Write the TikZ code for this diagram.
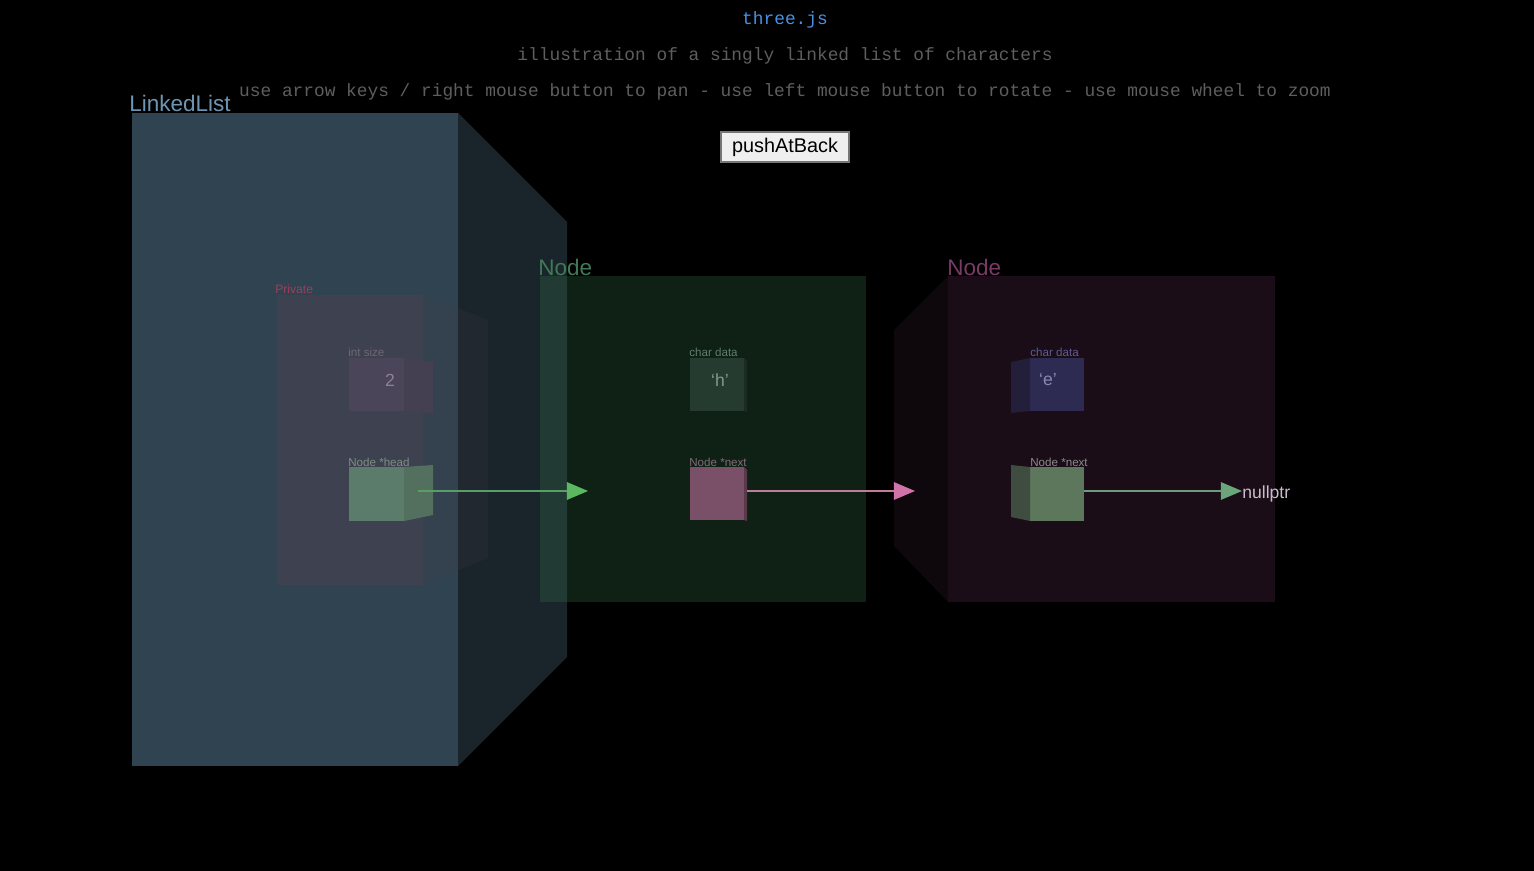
\documentclass[tikz,border=0pt]{standalone}
\usepackage{fontspec}
\setmainfont{Liberation Sans}
\newfontfamily\monofont{Liberation Mono}
\usetikzlibrary{arrows.meta,calc}

\definecolor{titleblue}{HTML}{4A8FE2}
\definecolor{infogray}{HTML}{5E5E5E}
\definecolor{buttonfill}{HTML}{EFEFEF}
\definecolor{buttonedge}{HTML}{767676}
\definecolor{llfront}{HTML}{2F4350}
\definecolor{llside}{HTML}{1A252B}
\definecolor{lltext}{HTML}{6E96B4}
\definecolor{privfill}{HTML}{5A4050}
\definecolor{privtext}{HTML}{9C3F5E}
\definecolor{sizefront}{HTML}{4A4559}
\definecolor{sizeside}{HTML}{444052}
\definecolor{sizetext}{HTML}{8C8399}
\definecolor{sizelbl}{HTML}{6E6878}
\definecolor{headfront}{HTML}{5B7B6B}
\definecolor{headside}{HTML}{53705F}
\definecolor{headlbl}{HTML}{7E8E84}
\definecolor{greenfill}{HTML}{326B46}
\definecolor{greentext}{HTML}{3F7A56}
\definecolor{hfront}{HTML}{263B2F}
\definecolor{hside}{HTML}{1C2C22}
\definecolor{htext}{HTML}{7C9C88}
\definecolor{hlbl}{HTML}{5F7F6C}
\definecolor{pinkfront}{HTML}{7A5068}
\definecolor{pinkside}{HTML}{583A4B}
\definecolor{pinklbl}{HTML}{806C7A}
\definecolor{pinkline}{HTML}{C07A9A}
\definecolor{pinkhead}{HTML}{D272AA}
\definecolor{purplefront}{HTML}{1A0D17}
\definecolor{purpleside}{HTML}{0E080D}
\definecolor{purpletext}{HTML}{7A3A66}
\definecolor{efront}{HTML}{2D2B52}
\definecolor{eside}{HTML}{231F3B}
\definecolor{etext}{HTML}{8A88B2}
\definecolor{elbl}{HTML}{5E5C96}
\definecolor{nextfront}{HTML}{5C775B}
\definecolor{nextside}{HTML}{3F4D41}
\definecolor{nextlbl}{HTML}{8C8C8C}
\definecolor{greenline}{HTML}{56A066}
\definecolor{greenhead}{HTML}{5CB860}
\definecolor{nullline}{HTML}{6C9C7C}
\definecolor{nullhead}{HTML}{6CA47C}
\definecolor{nulltext}{HTML}{CBBBCB}

\tikzset{
  face/.style={draw=none, inner sep=0pt, outer sep=0pt, anchor=north west},
  pxsize/.style 2 args={minimum width={#1*0.02cm}, minimum height={#2*0.02cm}},
  info/.style={font=\monofont\fontsize{10.15}{12}\selectfont, text=infogray, anchor=base, inner sep=0pt},
  boxtitle/.style={font=\fontsize{12.8}{14}\selectfont, anchor=base west, inner sep=0pt},
  fieldlabel/.style={font=\fontsize{6.6}{8}\selectfont, anchor=base west, inner sep=0pt},
  value/.style={font=\fontsize{10}{12}\selectfont, inner sep=0pt},
  ptr/.style 2 args={line width=0.6pt, draw=#1, -{Triangle[length=12pt, width=10pt, color=#2]}}
}

\begin{document}
\begin{tikzpicture}[x=0.02cm, y=-0.02cm]
\fill[black] (0,0) rectangle (1534,871);
\useasboundingbox (0,0) rectangle (1534,871);

\node[info, text=titleblue] (title) at (785,25) {three.js};
\node[info] (subtitle) at (785,61) {illustration of a singly linked list of characters};
\node[info] (help) at (785,97) {use arrow keys / right mouse button to pan - use left mouse button to rotate - use mouse wheel to zoom};
\node[draw=buttonedge, fill=buttonfill, line width=0.6pt, inner sep=0pt, pxsize={128}{30},
  font=\fontsize{11.3}{13}\selectfont] (push) at (785,147) {pushAtBack};

\node[face, pxsize={326}{653}, fill=llfront] (llf) at (132,113) {};
\fill[llside] (llf.north east) -- (567,222) -- (567,657) -- (llf.south east) -- cycle;
\node[boxtitle, text=lltext] (lltitle) at (129,112) {LinkedList};

\node[face, pxsize={146}{290}, fill=privfill, fill opacity=0.35] (privf) at (277,295) {};
\fill[privfill, fill opacity=0.12] (privf.north east) -- (488,320) -- (488,558) -- (privf.south east) -- cycle;
\node[fieldlabel, text=privtext, font=\fontsize{6.9}{8}\selectfont] (privlbl) at (275,294) {Private};

\node[face, pxsize={55}{53}, fill=sizefront] (sizef) at (349,358) {};
\fill[sizeside] (sizef.north east) -- (433,362) -- (433,413) -- (sizef.south east) -- cycle;
\node[value, text=sizetext] (sizeval) at (390,380) {2};
\node[fieldlabel, text=sizelbl] (sizelabel) at (348,357) {int size};

\node[face, pxsize={55}{54}, fill=headfront] (headf) at (349,467) {};
\fill[headside] (headf.north east) -- (433,465) -- (433,515) -- (headf.south east) -- cycle;
\node[fieldlabel, text=headlbl] (headlabel) at (348,466) {Node *head};

\node[face, pxsize={326}{326}, fill=greenfill, fill opacity=0.3] (n1f) at (540,276) {};
\node[boxtitle, text=greentext] (n1title) at (538,276) {Node};

\node[face, pxsize={54}{53}, fill=hfront] (n1dataf) at (690,358) {};
\fill[hside] (n1dataf.north east) -- (747,361) -- (747,412) -- (n1dataf.south east) -- cycle;
\node[value, text=htext] (n1val) at (720,380) {`h'};
\node[fieldlabel, text=hlbl] (n1datalabel) at (689,357) {char data};

\node[face, pxsize={54}{53}, fill=pinkfront] (n1nextf) at (690,467) {};
\fill[pinkside] (n1nextf.north east) -- (747,470) -- (747,521) -- (n1nextf.south east) -- cycle;
\node[fieldlabel, text=pinklbl] (n1nextlabel) at (689,466) {Node *next};

\node[face, pxsize={327}{326}, fill=purplefront] (n2f) at (948,276) {};
\fill[purpleside] (n2f.north west) -- (894,330) -- (894,546) -- (n2f.south west) -- cycle;
\node[boxtitle, text=purpletext] (n2title) at (947,276) {Node};

\node[face, pxsize={54}{53}, fill=efront] (n2dataf) at (1030,358) {};
\fill[eside] (n2dataf.north west) -- (1011,362) -- (1011,413) -- (n2dataf.south west) -- cycle;
\node[value, text=etext] (n2val) at (1048,380) {`e'};
\node[fieldlabel, text=elbl] (n2datalabel) at (1030,357) {char data};

\node[face, pxsize={54}{54}, fill=nextfront] (n2nextf) at (1030,467) {};
\fill[nextside] (n2nextf.north west) -- (1011,465) -- (1011,517) -- (n2nextf.south west) -- cycle;
\node[fieldlabel, text=nextlbl] (n2nextlabel) at (1030,466) {Node *next};

\node[value, text=nulltext, anchor=west] (nullnode) at (1242,494) {nullptr};

\coordinate (n1in) at (588,491);
\coordinate (n2in) at (915,491);
\draw[ptr={greenline}{greenhead}] ($(headf.east |- n1in)+(14,0)$) -- (n1in);
\draw[ptr={pinkline}{pinkhead}] ($(n1nextf.east |- n2in)+(3,0)$) -- (n2in);
\draw[ptr={nullline}{nullhead}] (n2nextf.east |- n2in) -- (nullnode.west |- n2in);

\end{tikzpicture}
\end{document}
